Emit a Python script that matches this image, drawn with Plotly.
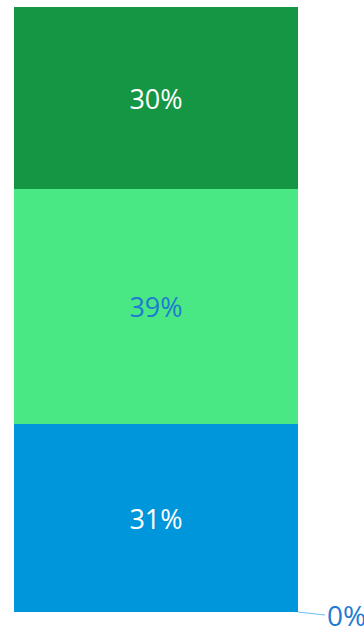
import plotly.graph_objects as go

categories = ["Total"]
series_names = ["Series 0", "Series 1", "Series 2", "Series 3"]
series_values = [0, 31, 39, 30]
series_colors = ["#0096db", "#0096db", "#4ae885", "#159645"]
label_colors = ["#1e7bd0", "#ffffff", "#1e7bd0", "#ffffff"]

FONT = "Open Sans"
fig = go.Figure()
for name, val, col, lc in zip(series_names, series_values, series_colors, label_colors):
    if val == 0:
        continue
    fig.add_trace(go.Bar(
        x=categories, y=[val], name=name,
        marker=dict(color=col, line=dict(width=0)),
        text=[f"{val}%"], textposition="inside", insidetextanchor="middle",
        textangle=0, textfont=dict(family=FONT, size=27, color=lc),
        hoverinfo="skip",
    ))

# zero-valued series label with leader line
for name, val, lc in zip(series_names, series_values, label_colors):
    if val == 0:
        fig.add_annotation(
            x=0.5, y=0, xref="x", yref="y", text=f"{val}%",
            showarrow=True, arrowhead=0, arrowwidth=1.2, arrowcolor="#6cc0f0",
            ax=27, ay=3, xanchor="left", yanchor="middle",
            font=dict(family=FONT, size=28, color=lc),
        )

fig.update_layout(
    barmode="stack", bargap=0,
    width=364, height=628,
    margin=dict(l=14, r=66, t=7, b=16),
    paper_bgcolor="white", plot_bgcolor="white",
    showlegend=False,
    xaxis=dict(visible=False, range=[-0.5, 0.5]),
    yaxis=dict(visible=False, range=[0, 100]),
)
fig.write_html("out.html")
